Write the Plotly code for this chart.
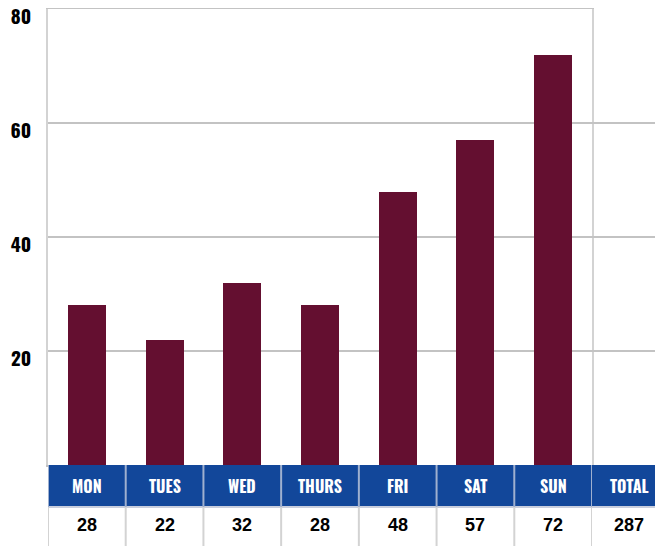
import plotly.graph_objects as go

days = ["MON", "TUES", "WED", "THURS", "FRI", "SAT", "SUN"]
visits = [28, 22, 32, 28, 48, 57, 72]
total_label = "TOTAL"
total_value = sum(visits)
y_ticks = [20, 40, 60, 80]

# the page body has an 8px margin, so the figure is offset by 8px
W, H = 655, 538
ML, MT, MB = 40, 1, 81
plot_h = H - MT - MB
plot_w = W - ML
day_w = 544

cond = "Oswald, Roboto Condensed, Open Sans Condensed, sans-serif"
sans = "Liberation Sans, Arial, Helvetica, sans-serif"
blue = "#12479a"
bar_col = "#640f30"
grid_col = "#c3c3c3"
border_col = "#d3d3d3"

fig = go.Figure()
fig.add_trace(go.Bar(x=days, y=visits, marker=dict(color=bar_col, line=dict(width=0)),
                     width=0.49, hoverinfo="x+y", xaxis="x", yaxis="y"))
# invisible trace to anchor the TOTAL column axis
fig.add_trace(go.Scatter(x=[total_label], y=[0], mode="markers", marker=dict(opacity=0),
                         xaxis="x2", yaxis="y", showlegend=False, hoverinfo="skip"))

hdr_bot = -42 / plot_h
row_bot = -100 / plot_h
hdr_mid = -21 / plot_h
val_mid = -60 / plot_h

shapes = []
annotations = []
# header band
shapes.append(dict(type="rect", xref="x", yref="paper", x0=-0.5, x1=6.5, y0=hdr_bot, y1=0,
                   fillcolor=blue, line=dict(width=0), layer="above"))
shapes.append(dict(type="rect", xref="x2", yref="paper", x0=-0.5, x1=0.45, y0=hdr_bot, y1=0,
                   fillcolor=blue, line=dict(width=0), layer="above"))
# header bottom line
shapes.append(dict(type="line", xref="paper", yref="paper", x0=0, x1=1, y0=hdr_bot, y1=hdr_bot,
                   line=dict(color="#c9cedd", width=2), layer="above"))
# vertical separators
for i in range(len(days) + 1):
    xb = i - 0.5
    shapes.append(dict(type="line", xref="x", yref="paper", x0=xb, x1=xb, y0=row_bot, y1=hdr_bot,
                       line=dict(color=border_col, width=2), layer="above"))
    shapes.append(dict(type="line", xref="x", yref="paper", x0=xb, x1=xb, y0=hdr_bot, y1=0,
                       line=dict(color="#9fb0cf", width=2), layer="above"))

for d, v in zip(days, visits):
    annotations.append(dict(xref="x", yref="paper", x=d, y=hdr_mid, text=d, showarrow=False,
                            font=dict(family=cond, size=16, color="white", weight="bold"),
                            xanchor="center", yanchor="middle"))
    annotations.append(dict(xref="x", yref="paper", x=d, y=val_mid, text=str(v), showarrow=False,
                            font=dict(family=sans, size=18, color="black", weight="bold"),
                            xanchor="center", yanchor="middle"))
annotations.append(dict(xref="x2", yref="paper", x=total_label, y=hdr_mid, text=total_label, showarrow=False,
                        font=dict(family=cond, size=16, color="white", weight="bold"),
                        xanchor="center", yanchor="middle"))
annotations.append(dict(xref="x2", yref="paper", x=total_label, y=val_mid, text=str(total_value), showarrow=False,
                        font=dict(family=sans, size=18, color="black", weight="bold"),
                        xanchor="center", yanchor="middle"))

fig.update_layout(
    width=W, height=H,
    margin=dict(l=ML, r=0, t=MT, b=MB, pad=0, autoexpand=False),
    paper_bgcolor="white", plot_bgcolor="white",
    showlegend=False,
    bargap=0,
    xaxis=dict(domain=[0, day_w / plot_w], range=[-0.5, 6.5], type="category", automargin=False,
               showticklabels=False, showgrid=False, zeroline=False,
               showline=True, linecolor=grid_col, linewidth=2, mirror=True, ticks=""),
    xaxis2=dict(domain=[day_w / plot_w, 1], range=[-0.5, 0.45], type="category", anchor="y",
                automargin=False,
                showticklabels=False, showgrid=False, zeroline=False, showline=False, ticks=""),
    yaxis=dict(range=[0, 80.03], tickvals=y_ticks, ticktext=[str(t) for t in y_ticks], automargin=False,
               showgrid=True, gridcolor=grid_col, gridwidth=2, zeroline=False,
               showline=True, linecolor=border_col, linewidth=2, mirror=True,
               ticks="", ticklabelstandoff=11, ticklabelshift=8, ticklabeloverflow="allow",
               tickfont=dict(family=cond, size=19, color="black", weight="bold")),
    shapes=shapes, annotations=annotations,
)

fig.write_html("out.html")
